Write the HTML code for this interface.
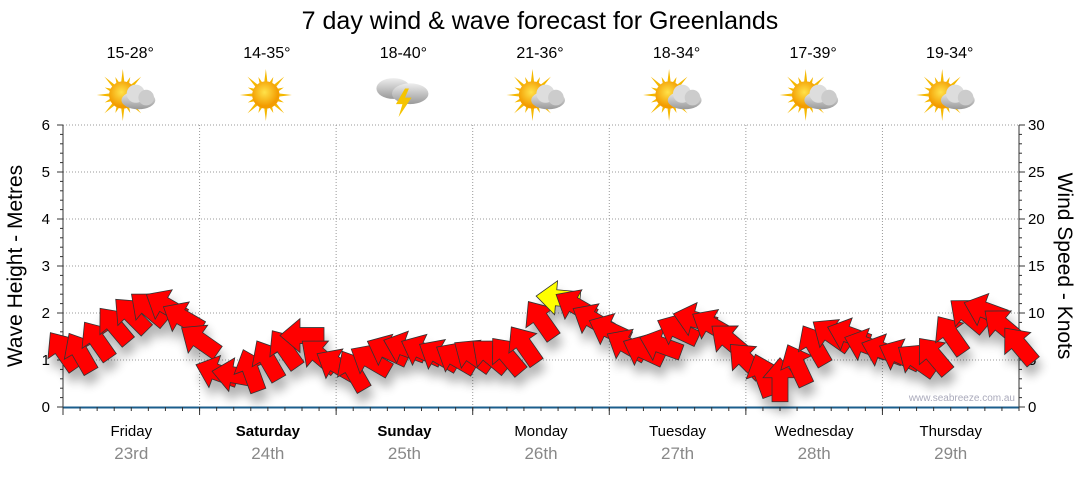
<!DOCTYPE html>
<html><head><meta charset="utf-8"><style>
body{margin:0;background:#fff;width:1080px;height:475px;overflow:hidden;font-family:"Liberation Sans","DejaVu Sans",sans-serif}
</style></head><body>
<svg id="chart" width="1080" height="475" xmlns="http://www.w3.org/2000/svg">
<defs>
<filter id="sh" x="-50%" y="-50%" width="200%" height="200%"><feGaussianBlur in="SourceAlpha" stdDeviation="5"/><feOffset dx="3" dy="10" result="b"/><feComponentTransfer><feFuncA type="linear" slope="0.3"/></feComponentTransfer><feMerge><feMergeNode/><feMergeNode in="SourceGraphic"/></feMerge></filter>
<radialGradient id="sun" cx="45%" cy="40%"><stop offset="0" stop-color="#ffe24a"/><stop offset="1" stop-color="#f39c00"/></radialGradient>
<linearGradient id="cloud" x1="0" y1="0" x2="0" y2="1"><stop offset="0" stop-color="#eee"/><stop offset="1" stop-color="#999"/></linearGradient>
</defs>
<text x="540" y="29" font-size="25" text-anchor="middle" fill="#000">7 day wind &amp; wave forecast for Greenlands</text>
<g id="topg"></g>
<g id="grid"></g>
<g id="axes"></g>
<g id="arrows" filter="url(#sh)"></g>
<text x="1015" y="401" font-size="10" text-anchor="end" fill="#aab">www.seabreeze.com.au</text>
<text transform="translate(22,266) rotate(-90)" font-size="21" text-anchor="middle">Wave Height - Metres</text>
<text transform="translate(1058,266) rotate(90)" font-size="21" text-anchor="middle">Wind Speed - Knots</text>
</svg>
<script>
const days=["Friday","Saturday","Sunday","Monday","Tuesday","Wednesday","Thursday"];
const dates=["23rd","24th","25th","26th","27th","28th","29th"];
const boldDays=[false,true,true,false,false,false,false];
const temps=["15-28°","14-35°","18-40°","21-36°","18-34°","17-39°","19-34°"];
const icons=["partly","sun","storm","partly","partly","partly","partly"];
const waveTicks=[0,1,2,3,4,5,6];
const windTicks=[0,5,10,15,20,25,30];
// wind speed (knots), 3-hourly
const windSpeed=[6,5.8,7.1,8.7,9.8,10.5,10.8,9.5,7.1,3.7,3.4,3.9,5,6.2,7.6,5.5,4.5,3.9,5,6,6.3,6,5.5,5.2,5.5,5.5,5.5,6.6,9.3,11.6,10.8,9.3,8.2,6.6,6,6.6,8.2,9.3,8.7,7.1,5,3.4,2.9,4.5,6.6,7.7,7.7,6.6,6,5.5,5,5.5,7.7,9.8,10.3,8.7,6.6];
// arrow pointing angle (deg, screen, 0=right, clockwise)
const windDir=[-125,-120,-125,-130,-135,-140,-150,-150,-145,-160,-170,-110,-120,-125,-180,-140,-150,-120,-150,-155,-160,-155,-150,-150,-145,-140,-130,-125,-125,-175,-150,-150,-155,-150,-155,-160,-155,-165,-150,-140,-135,-110,-90,-115,-120,-145,-160,-160,-160,-155,-145,-130,-125,-140,-160,-140,-130];
const x0=63,x1=1019,y0=407,y1=125;
const X=i=>x0+(x1-x0)*i/(windSpeed.length-1);
const YW=v=>y0-(y0-y1)*v/6, YK=v=>y0-(y0-y1)*v/30;
const NS="http://www.w3.org/2000/svg";
function mk(p,t,a){const e=document.createElementNS(NS,t);for(const k in a)e.setAttribute(k,a[k]);p.appendChild(e);return e;}
const grid=document.getElementById('grid'),axes=document.getElementById('axes'),topG=document.getElementById('topg'),ar=document.getElementById('arrows');
const dw=(x1-x0)/7;
waveTicks.forEach(v=>{if(v>0){const l=mk(grid,'line',{x1:x0,x2:x1,y1:YW(v),y2:YW(v),stroke:'#999','stroke-dasharray':'1,2'});

}
const t=mk(axes,'text',{x:50,y:YW(v)+5,'font-size':15,'text-anchor':'end'});t.textContent=v;

});
windTicks.forEach(v=>{const t=mk(axes,'text',{x:1028,y:YK(v)+5,'font-size':15});t.textContent=v;

});
for(let v=0;v<=6.001;v+=0.2){const y=YW(v);mk(axes,'line',{x1:x0-(Math.abs(v-Math.round(v))<0.01?6:3),x2:x0,y1:y,y2:y,stroke:'#333'});}
for(let v=0;v<=30;v+=1){const y=YK(v);mk(axes,'line',{x1:x1,x2:x1+(v%5==0?6:3),y1:y,y2:y,stroke:'#333'});}
mk(axes,'line',{x1:x0,x2:x0,y1:y1,y2:y0,stroke:'#333'});
mk(axes,'line',{x1:x1,x2:x1,y1:y1,y2:y0,stroke:'#333'});
mk(axes,'line',{x1:x0,x2:x1,y1:y0+0.5,y2:y0+0.5,stroke:'#1b5e8c','stroke-width':2});
for(let d=0;d<7;d++){
 const xs=x0+d*dw,xc=xs+dw/2;
 if(d>0){const g=mk(grid,'line',{x1:xs,x2:xs,y1:y1,y2:y0,stroke:'#999','stroke-dasharray':'1,2'});
 
 }
 for(let k=0;k<=8;k++)mk(axes,'line',{x1:xs+k*dw/8,x2:xs+k*dw/8,y1:y0,y2:y0+(k==0?8:4),stroke:'#333'});
 const dn=mk(axes,'text',{x:xc,y:436,'font-size':15,'text-anchor':'middle','font-weight':boldDays[d]?'bold':'normal'});dn.textContent=days[d];
 
 
 const dt=mk(axes,'text',{x:xc,y:459,'font-size':17,'text-anchor':'middle',fill:'#888'});dt.textContent=dates[d];
 
 
 const tt=mk(topG,'text',{x:xc-1,y:58,'font-size':16,'text-anchor':'middle'});tt.textContent=temps[d];
 
 
 const g=mk(topG,'g',{transform:`translate(${xc-2},95) scale(1.3)`});
 
 
 if(icons[d]!='storm'){
  const sx=icons[d]=='sun'?0:-5;
  for(let a=0;a<16;a++){const r=a%2?15:20,ang=a*Math.PI/8;mk(g,'polygon',{points:`${sx+Math.cos(ang)*r},${Math.sin(ang)*r} ${sx+Math.cos(ang+0.15)*9},${Math.sin(ang+0.15)*9} ${sx+Math.cos(ang-0.15)*9},${Math.sin(ang-0.15)*9}`,fill:'#f5b800'});}
  mk(g,'circle',{cx:sx,cy:0,r:10.5,fill:'url(#sun)'});
  if(icons[d]=='partly'){mk(g,'ellipse',{cx:7,cy:4,rx:13,ry:7,fill:'url(#cloud)'});mk(g,'circle',{cx:5,cy:-1,r:7,fill:'#ddd'});mk(g,'circle',{cx:13,cy:2,r:6,fill:'#ccc'});}
 } else {
  mk(g,'ellipse',{cx:-7,cy:-5,rx:13,ry:8,fill:'url(#cloud)'});mk(g,'ellipse',{cx:6,cy:-1,rx:14,ry:8,fill:'url(#cloud)'});
  mk(g,'polygon',{points:'2,-5 -5,7 0,7 -3,17 7,2 2,2 5,-5',fill:'#f5c400'});
 }
}
windSpeed.forEach((v,i)=>{
 const c=v>=11?'#ffff00':'#ff0000';
 const p=mk(ar,'polygon',{points:'22,0 2,-17 2,-8 -22,-8 -22,8 2,8 2,17',fill:c,stroke:'#333','stroke-width':0.8,
  transform:`translate(${X(i)},${YK(v)}) rotate(${windDir[i]})`});
 
 
});
</script>
</body></html>
